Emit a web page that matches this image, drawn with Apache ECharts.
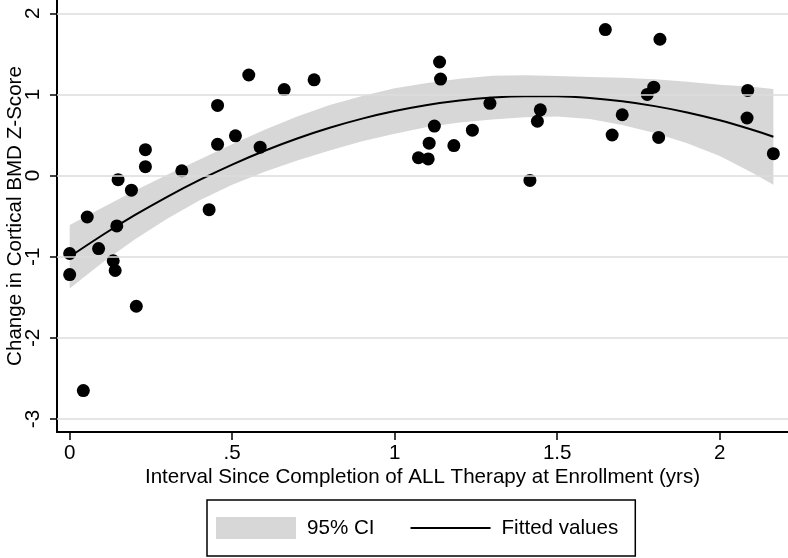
<!DOCTYPE html>
<html><head><meta charset="utf-8">
<script src="https://cdn.jsdelivr.net/npm/echarts@6/dist/echarts.min.js"></script>
<style>html,body{margin:0;padding:0;background:#fff}#c{width:788px;height:558px}</style>
</head><body><div id="c"></div>
<script>
// Observations (scatter points)
const ptX = [0, 0, 0.042, 0.054, 0.089, 0.134, 0.14, 0.145, 0.149, 0.19, 0.205, 0.233, 0.233, 0.345, 0.429, 0.455, 0.455, 0.51, 0.551, 0.586, 0.66, 0.752,
  1.073, 1.103, 1.106, 1.122, 1.138, 1.141, 1.182, 1.239, 1.293, 1.416, 1.439, 1.448, 1.648, 1.669, 1.70, 1.777, 1.797, 1.812, 1.816, 2.084, 2.086, 2.165];
const ptY = [-0.96, -1.22, -2.65, -0.51, -0.90, -1.05, -1.17, -0.62, -0.05, -0.18, -1.61, 0.32, 0.11, 0.06, -0.42, 0.865, 0.385, 0.49, 1.24, 0.35, 1.06, 1.18,
  0.22, 0.205, 0.40, 0.61, 1.40, 1.19, 0.37, 0.56, 0.89, -0.06, 0.67, 0.81, 1.80, 0.50, 0.75, 1.00, 1.09, 0.47, 1.68, 0.71, 1.05, 0.27];

// Fitted values and 95% CI
const fitX = [0, 0.1, 0.2, 0.3, 0.4, 0.5, 0.6, 0.7, 0.8, 0.9, 1.0, 1.1, 1.2, 1.3, 1.4, 1.5, 1.6, 1.7, 1.8, 1.9, 2.0, 2.1, 2.165];
const fitY = [-1.000, -0.735, -0.488, -0.261, -0.053, 0.136, 0.306, 0.457, 0.589, 0.702, 0.795, 0.870, 0.925, 0.961, 0.978, 0.977, 0.956, 0.915, 0.856, 0.778, 0.681, 0.564, 0.478];
const ciUpper = [-0.610, -0.395, -0.188, 0.009, 0.197, 0.386, 0.566, 0.727, 0.869, 0.982, 1.075, 1.140, 1.195, 1.231, 1.238, 1.227, 1.216, 1.205, 1.186, 1.158, 1.121, 1.094, 1.068];
const ciLower = [-1.390, -1.075, -0.788, -0.531, -0.303, -0.114, 0.046, 0.187, 0.309, 0.422, 0.515, 0.600, 0.655, 0.691, 0.718, 0.727, 0.696, 0.625, 0.526, 0.398, 0.241, 0.034, -0.112];

// Tick labels
const xTicks = [0, 0.5, 1, 1.5, 2];
const xTickLabels = ['0', '.5', '1', '1.5', '2'];
const yTicks = [-3, -2, -1, 0, 1, 2];
const yTickLabels = ['-3', '-2', '-1', '0', '1', '2'];

const FONT = "'Liberation Sans', Arial, Helvetica, sans-serif";
const FS = 20.6;
const BAND = '#d7d7d7';

function lookup(ticks, labels, v) {
  for (let i = 0; i < ticks.length; i++) if (Math.abs(ticks[i] - v) < 1e-9) return labels[i];
  return '';
}

const chart = echarts.init(document.getElementById('c'), null, {renderer: 'canvas'});
chart.setOption({
  animation: false,
  backgroundColor: '#fff',
  textStyle: {fontFamily: FONT},
  grid: {left: 57, right: 0, top: 0, bottom: 126, containLabel: false, outerBoundsMode: 'none'},
  xAxis: {
    type: 'value', min: -0.039, max: 2.21,
    axisLine: {show: true, onZero: false, lineStyle: {color: '#000', width: 2}},
    axisTick: {show: true, length: 8, lineStyle: {color: '#000', width: 1.5}, customValues: xTicks},
    axisLabel: {show: true, customValues: xTicks, fontSize: FS, color: '#000', fontFamily: FONT, margin: 11,
      formatter: v => lookup(xTicks, xTickLabels, v)},
    splitLine: {show: false},
    name: 'Interval Since Completion of ALL Therapy at Enrollment (yrs)',
    nameLocation: 'middle', nameGap: 35, nameMoveOverlap: false,
    nameTextStyle: {fontSize: FS, color: '#000', fontFamily: FONT}
  },
  yAxis: {
    type: 'value', min: -3.16, max: 2.164,
    axisLine: {show: true, onZero: false, lineStyle: {color: '#000', width: 2}},
    axisTick: {show: true, length: 7, lineStyle: {color: '#000', width: 1.5}, customValues: yTicks},
    axisLabel: {show: true, customValues: yTicks, rotate: 90, fontSize: FS, color: '#000', fontFamily: FONT, margin: 13,
      formatter: v => lookup(yTicks, yTickLabels, v)},
    splitLine: {show: false},
    name: 'Change in Cortical BMD Z-Score',
    nameLocation: 'middle', nameGap: 31, nameMoveOverlap: false,
    nameTextStyle: {fontSize: FS, color: '#000', fontFamily: FONT}
  },
  legend: {
    show: true, left: 207, top: 500, orient: 'horizontal',
    borderColor: '#000', borderWidth: 1.5, padding: [17, 17, 17, 9],
    itemWidth: 80, itemHeight: 22, itemGap: 35,
    textStyle: {fontSize: FS, color: '#000', fontFamily: FONT, padding: [0, 0, 0, 6]},
    selectedMode: false,
    data: [
      {name: '95% CI', icon: 'rect', itemStyle: {color: BAND}},
      {name: 'Fitted values', itemStyle: {color: 'rgba(0,0,0,0)', borderWidth: 0, opacity: 0}, lineStyle: {color: '#000', width: 2}}
    ]
  },
  series: [
    {
      type: 'line', name: 'grid', data: [], z: 1, silent: true,
      markLine: {
        silent: true, symbol: 'none', animation: false,
        label: {show: false},
        lineStyle: {color: '#dcdcdc', width: 1.5, type: 'solid'},
        data: yTicks.map(v => ({yAxis: v}))
      }
    },
    {
      type: 'custom', name: '95% CI', z: 2, silent: true,
      itemStyle: {color: BAND},
      data: [[fitX[0], fitY[0]]],
      renderItem: function (params, api) {
        const pts = [];
        for (let i = 0; i < fitX.length; i++) pts.push(api.coord([fitX[i], ciUpper[i]]));
        for (let i = fitX.length - 1; i >= 0; i--) pts.push(api.coord([fitX[i], ciLower[i]]));
        return {type: 'polygon', shape: {points: pts}, style: {fill: BAND}};
      }
    },
    {
      type: 'line', name: 'Fitted values', z: 3, silent: true,
      data: fitX.map((x, i) => [x, fitY[i]]),
      smooth: 0.3, symbol: 'none', showSymbol: false,
      lineStyle: {color: '#000', width: 2},
      itemStyle: {color: '#000'}
    },
    {
      type: 'scatter', name: 'obs', z: 4, silent: true,
      data: ptX.map((x, i) => [x, ptY[i]]),
      symbol: 'circle', symbolSize: 13,
      itemStyle: {color: '#000', opacity: 1}
    }
  ]
});
</script>
</body></html>
